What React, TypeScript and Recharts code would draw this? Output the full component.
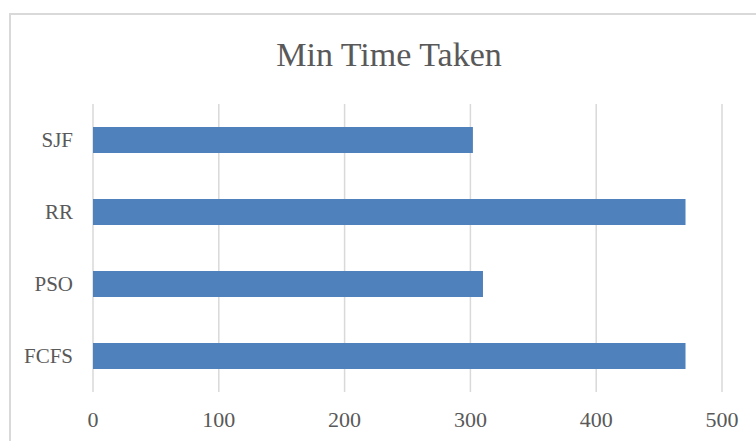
import { BarChart, Bar, XAxis, YAxis, CartesianGrid } from 'recharts';

const algorithms = ['SJF', 'RR', 'PSO', 'FCFS'];
const minTimes = [302, 471, 310, 471];
const timeTicks = [0, 100, 200, 300, 400, 500];

const data = algorithms.map((name, i) => ({ name, time: minTimes[i] }));

const FONT = '"Liberation Serif", "DejaVu Serif", serif';
const TEXT = '#595959';

export default function App() {
  return (
    <div
      style={{
        position: 'absolute',
        left: 0,
        top: 0,
        width: 756,
        height: 441,
        overflow: 'hidden',
        background: '#fff',
      }}
    >
      {/* chart frame, runs off the right and bottom edges */}
      <div
        style={{
          position: 'absolute',
          left: 9,
          top: 13,
          width: 800,
          height: 500,
          border: '2px solid #d9d9d9',
          boxSizing: 'border-box',
        }}
      />
      <div
        style={{
          position: 'absolute',
          left: 0,
          top: 38,
          width: 778,
          textAlign: 'center',
          fontFamily: FONT,
          fontSize: 34,
          lineHeight: 1,
          color: TEXT,
        }}
      >
        Min Time Taken
      </div>
      <div style={{ position: 'absolute', left: 0, top: 0 }}>
        <BarChart
          width={756}
          height={441}
          data={data}
          layout="vertical"
          margin={{ top: 104, right: 34, bottom: 0, left: 0 }}
        >
          <CartesianGrid horizontal={false} stroke="#d9d9d9" strokeWidth={1.5} />
          <XAxis
            type="number"
            domain={[0, 500]}
            ticks={timeTicks}
            height={49}
            axisLine={false}
            tickLine={false}
            tickSize={0}
            tickMargin={19}
            tick={{ fill: TEXT, fontSize: 22, fontFamily: FONT }}
          />
          <YAxis
            type="category"
            dataKey="name"
            width={93}
            axisLine={false}
            tickLine={false}
            tickSize={0}
            tickMargin={20}
            tick={{ fill: TEXT, fontSize: 21, fontFamily: FONT }}
          />
          <Bar dataKey="time" fill="#4F81BD" barSize={26} isAnimationActive={false} />
        </BarChart>
      </div>
    </div>
  );
}
